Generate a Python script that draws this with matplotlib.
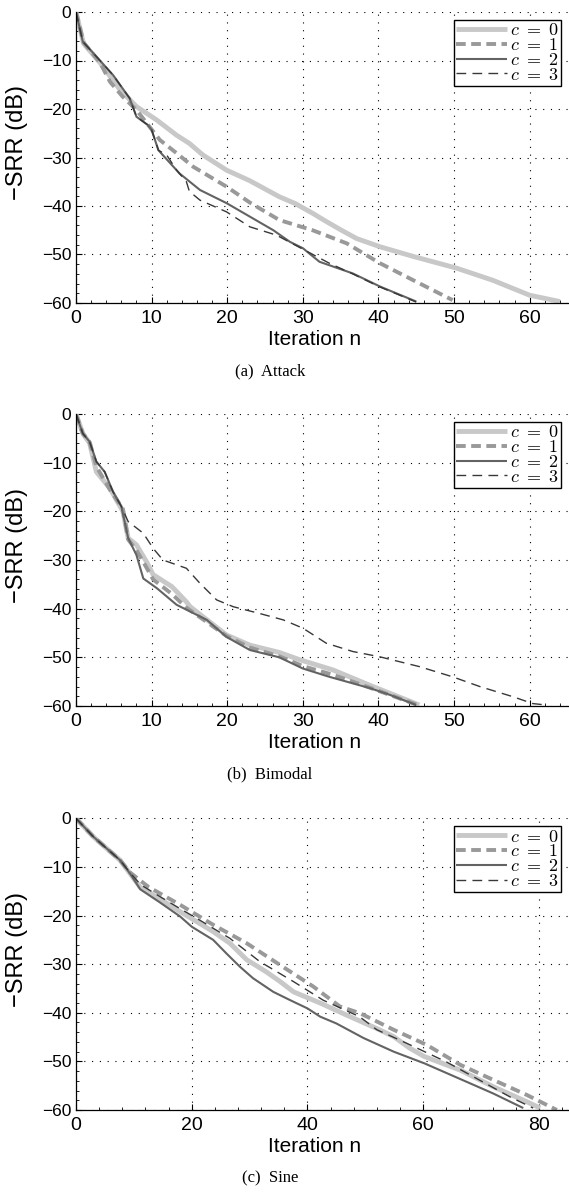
import matplotlib
matplotlib.use("Agg")
import matplotlib.pyplot as plt
from matplotlib.ticker import AutoMinorLocator

plt.rcParams['font.family'] = ['Liberation Sans', 'DejaVu Sans']
plt.rcParams['mathtext.fontset'] = 'cm'
plt.rcParams['axes.unicode_minus'] = True

# ---------------- data ----------------
# (a) Attack
a0_n = [0, 1, 3.2, 5.8, 8, 10.7, 13.3, 15, 16.8, 19.9, 23, 26.9, 29, 31.3, 33.1, 35, 37.1, 40.2, 44.6, 50.3, 55.1, 60, 64]
a0_v = [0, -6.5, -10.5, -16, -19.5, -22.3, -25.4, -27.1, -29.5, -32.6, -34.8, -38.1, -39.5, -41.5, -43.2, -44.9, -46.7, -48.4, -50.4, -52.8, -55.3, -58.4, -59.7]
a1_n = [0, 1, 3.2, 4.5, 6.2, 8, 11.1, 13.3, 15.5, 19.9, 23, 26.9, 31.3, 35.8, 40.2, 44.6, 49.8]
a1_v = [0, -6.3, -10.5, -14.4, -17.5, -20.2, -26.4, -29.1, -31.9, -36, -39.3, -42.9, -45, -47.7, -51.8, -55.3, -59.4]
a2_n = [0, 0.9, 2.7, 4.9, 7.1, 8, 9.5, 10, 10.9, 13.7, 16.4, 19.9, 23, 26.1, 28.3, 30, 32.2, 36.6, 40.2, 41.9, 45]
a2_v = [0, -6.1, -9.2, -13, -17.8, -21.6, -23.3, -24.3, -28.5, -33.3, -36.7, -39.4, -42.2, -45, -47.4, -48.7, -51.5, -53.9, -56.6, -57.7, -59.7]
a3_n = [0, 0.9, 2.7, 4.9, 7.1, 8, 9.5, 10, 10.9, 12, 13.3, 14.6, 15, 16.4, 19.9, 23, 26.5, 30, 33.5, 36.6, 40.2, 45]
a3_v = [0, -6.1, -9.2, -13, -17.8, -21.6, -23.3, -24.3, -28.5, -29.5, -32.6, -35, -37, -38.8, -41.2, -44.3, -46, -48.9, -51.8, -54, -56.7, -59.8]

# (b) Bimodal
b0_n = [0, 0.9, 1.8, 2.7, 4.5, 6.2, 6.9, 8, 9.3, 10.2, 12.7, 14.6, 15.1, 19.9, 23, 26.9, 29.6, 34, 38.8, 45.4]
b0_v = [0, -4, -6, -11.9, -15.3, -20, -25.5, -26.9, -30.3, -33, -35.5, -38.6, -39.6, -45.4, -47.5, -49, -50.5, -52.6, -55.7, -59.8]
b1_n = [0, 0.9, 1.8, 2.7, 4.5, 6.2, 6.9, 8, 9.3, 10.2, 12.7, 14.6, 19.9, 23, 26.9, 30, 34, 38.8, 45.2]
b1_v = [0, -4, -5.8, -10.8, -15.6, -19.5, -25.8, -28, -31.5, -34, -37, -39.8, -45.6, -48, -49.8, -51.8, -53.6, -56.2, -59.8]
b2_n = [0, 0.9, 1.8, 2.7, 3.8, 4.9, 6, 6.9, 8, 8.9, 10.7, 13.3, 17.3, 19.9, 23, 26.9, 30, 33.5, 38.8, 41.5, 45]
b2_v = [0, -4, -5.7, -9.8, -11.9, -16, -19, -25.5, -29, -33.8, -35.8, -39.2, -42.3, -45.8, -48.5, -50, -52.3, -54, -56.3, -57.7, -59.8]
b3_n = [0, 0.9, 1.8, 2.7, 3.8, 4.9, 6, 6.9, 8.9, 10.2, 11.5, 14.6, 16.4, 18.6, 20.8, 24.3, 27.4, 30, 33.1, 36.6, 40.2, 45.4, 49.8, 53.4, 57.8, 60.4, 62.2]
b3_v = [0, -4, -5.7, -9.8, -11.9, -16, -19, -22.1, -24.5, -27.6, -30, -31.7, -34.8, -38.2, -39.6, -41, -42.3, -44, -47.1, -48.8, -49.9, -51.9, -54, -56, -58.1, -59.5, -59.8]

# (c) Sine
c0_n = [0, 3, 5.3, 7.6, 9.3, 11.1, 14.5, 18, 23.7, 26.6, 29.5, 32.9, 35.3, 37.6, 42.2, 46.8, 51.9, 54.9, 57.7, 60.2, 66.4, 72.1, 77.9, 80.2]
c0_v = [0, -3.8, -6.2, -8.6, -11.3, -14.2, -16.6, -19.2, -23.3, -25.7, -29.1, -31.6, -33.6, -35.7, -38, -40.5, -43.2, -44.9, -47.3, -49, -51.8, -55.2, -58.3, -59.6]
c1_n = [0, 3, 5.3, 7.6, 9.3, 12.5, 18, 23.7, 29.5, 35.3, 41, 45.6, 49.1, 54.9, 60.6, 66.4, 72.1, 77.9, 83.1]
c1_v = [0, -3.8, -6.2, -8.6, -11.1, -14.1, -17.8, -21.9, -25.7, -30.2, -34.6, -38.7, -40.1, -43.5, -46.6, -50.7, -53.8, -56.9, -60]
c2_n = [0, 3, 5.3, 7.6, 9.3, 11.1, 14.5, 18, 20, 23.7, 26, 28.3, 30.6, 34.1, 37, 40, 42.2, 45, 49.7, 54.9, 60.2, 67.5, 72.1, 77.3]
c2_v = [0, -3.8, -6.2, -8.6, -11.3, -14.6, -17.3, -20.2, -22.3, -25, -27.8, -30.5, -32.9, -35.7, -37.4, -39.1, -40.8, -42.2, -45.2, -48, -50.4, -54.2, -56.6, -59.6]
c3_n = [0, 3, 5.3, 7.6, 9.3, 11.1, 14.5, 18, 20.9, 26.6, 31.8, 37.6, 42.7, 49, 52, 57.2, 64, 69.2, 75, 79]
c3_v = [0, -3.8, -6.2, -8.6, -11.1, -13.6, -16.1, -18.6, -20.6, -24.7, -29.5, -33.6, -37.4, -40.8, -43.5, -46.3, -50.1, -53.5, -57.3, -59.6]

labels = [r'$c\ =\ 0$', r'$c\ =\ 1$', r'$c\ =\ 2$', r'$c\ =\ 3$']
captions = ['(a)  Attack', '(b)  Bimodal', '(c)  Sine']
xticks_list = [[0, 10, 20, 30, 40, 50, 60], [0, 10, 20, 30, 40, 50, 60], [0, 20, 40, 60, 80]]
xlims = [65.2, 65.2, 85.2]
yticks = [0, -10, -20, -30, -40, -50, -60]

panels = [
    [(a0_n, a0_v), (a1_n, a1_v), (a2_n, a2_v), (a3_n, a3_v)],
    [(b0_n, b0_v), (b1_n, b1_v), (b2_n, b2_v), (b3_n, b3_v)],
    [(c0_n, c0_v), (c1_n, c1_v), (c2_n, c2_v), (c3_n, c3_v)],
]

styles = [
    dict(color='#c8c8c8', lw=3.5, ls='-'),
    dict(color='#999999', lw=2.8, ls=(0, (2.5, 1.4))),
    dict(color='#636363', lw=1.5, ls='-'),
    dict(color='#383838', lw=1.0, ls=(0, (7, 4.5))),
]

W, H = 569, 1198
fig = plt.figure(figsize=(W / 100, H / 100), dpi=100)

tops = [12, 414, 818.3]
bots = [303, 706, 1110]
left = 76
for i in range(3):
    ax = fig.add_axes([left / W, 1 - bots[i] / H, (W - left) / W, (bots[i] - tops[i]) / H])
    for (n, v), st, lab in zip(panels[i], styles, labels):
        ax.plot(n, v, label=lab, solid_capstyle='butt', dash_capstyle='butt', **st)
    ax.set_xlim(0, xlims[i])
    ax.set_ylim(-60, 0)
    ax.set_xticks(xticks_list[i])
    ax.set_yticks(yticks)
    ax.xaxis.set_minor_locator(AutoMinorLocator(5))
    ax.yaxis.set_minor_locator(AutoMinorLocator(5))
    ax.tick_params(which='both', direction='in')
    ax.tick_params(axis='x', labelsize=14, pad=5)
    ax.tick_params(axis='y', labelsize=12.5, pad=3.5)
    ax.tick_params(which='major', length=4, width=0.8)
    ax.tick_params(which='minor', length=2, width=0.6)
    ax.grid(True, which='major', color='black', ls=(0, (1, 6)), lw=0.8)
    ax.spines['top'].set_visible(False)
    ax.spines['right'].set_visible(False)
    for s in ('left', 'bottom'):
        ax.spines[s].set_linewidth(0.9)
    ax.set_ylabel('\u2212SRR (dB)', fontsize=17)
    ax.yaxis.set_label_coords(-0.097, 0.55)
    ax.set_xlabel('Iteration n', fontsize=15)
    ax.xaxis.set_label_coords(0.483, -0.093)
    leg = ax.legend(loc='upper right', bbox_to_anchor=(1.0, 1.0), fontsize=13,
                    handlelength=2.8, handletextpad=0.15, borderpad=0.12,
                    labelspacing=-0.12, borderaxespad=0.45, fancybox=False,
                    framealpha=1, edgecolor='black')
    leg.get_frame().set_linewidth(1.0)
    fig.text(270 / W, 1 - (bots[i] + 68) / H, captions[i], ha='center', va='center',
             fontsize=12, family=['Liberation Serif', 'DejaVu Serif'])

fig.savefig('out.png', dpi=100)
